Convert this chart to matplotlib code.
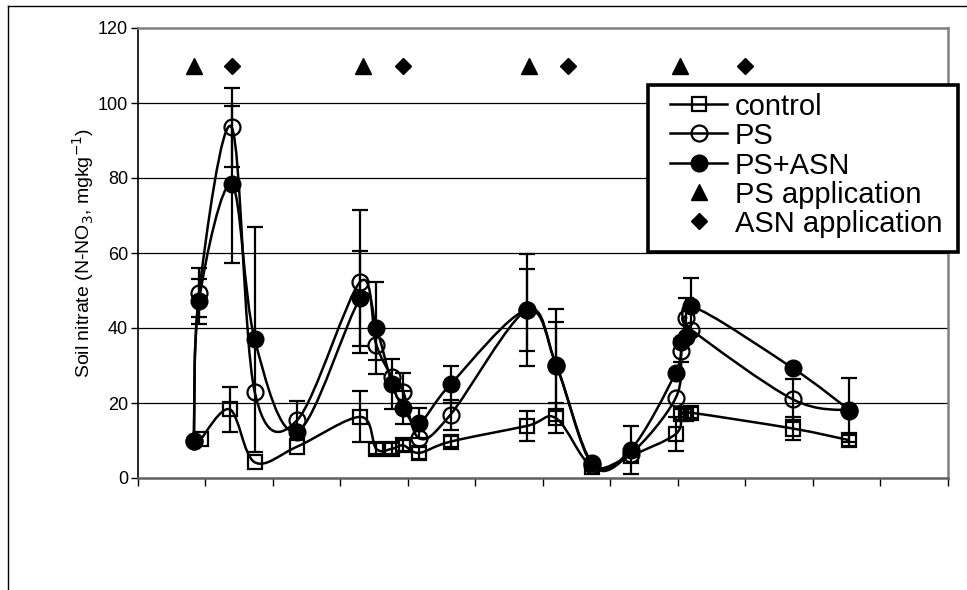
import numpy as np
import matplotlib
matplotlib.use('Agg')
import matplotlib.pyplot as plt
from matplotlib.path import Path
from matplotlib.patches import PathPatch, Rectangle
from matplotlib.lines import Line2D

plt.rcParams['font.family'] = ['Liberation Sans', 'DejaVu Sans']

# sampling days (x axis has no labels, ticks every 30 days)
days_c = [28, 41, 52, 71, 99, 106, 113, 118, 125, 139, 173, 186, 202, 219, 239, 241.6, 243.6, 246, 291, 316]
control = [10.3, 18.3, 4.2, 8.4, 16.3, 7.8, 7.8, 8.7, 6.7, 9.7, 13.9, 15.9, 3.0, 6.0, 11.7, 17.0, 17.0, 17.4, 13.2, 10.1]
control_err = [0, 6, 0, 0, 6.8, 1.5, 1.5, 1.5, 1.5, 1.5, 4, 4, 0, 0, 4.5, 1.5, 1.5, 1.5, 3, 1.5]

days_ps = [25, 27.3, 41.8, 52, 71, 99, 106, 113, 118, 125, 139, 173, 186, 202, 219, 239, 241.6, 243.6, 246, 291, 316]
ps = [10, 49.4, 93.5, 23, 15.5, 52.4, 35.6, 27, 23.0, 10.6, 16.9, 44.8, 30, 3.5, 6.5, 21.3, 34.0, 42.6, 39.5, 21, 18]
ps_err = [0, 6.5, 10.5, 0, 5, 19, 4, 0, 5, 0, 4, 15, 11.5, 0, 0, 0, 3, 5.3, 0, 5.4, 0]
ps_asn = [10, 47.2, 78.3, 37, 12.4, 47.9, 40.1, 25.1, 18.8, 14.6, 25.0, 44.8, 30.1, 4.0, 7.5, 28.1, 36.3, 37.7, 45.8, 29.3, 18.2]
ps_asn_err = [0, 6, 21, 30, 0, 12.7, 12.3, 6.7, 4.4, 4, 5, 11, 15, 0, 6.5, 0, 0, 0, 7.6, 0, 8.5]

ps_app_days = [25, 100, 174, 241]
asn_app_days = [41.8, 118, 191, 270]
app_level = 110

labels = ['control', 'PS', 'PS+ASN', 'PS application', 'ASN application']

W, H = 967, 590


def smooth(ax, x, y, lw):
    # Excel-like smoothed line drawn as cubic Bezier segments
    pts = np.column_stack([x, y]).astype(float)
    n = len(pts)
    verts = [pts[0]]
    codes = [Path.MOVETO]
    for i in range(n - 1):
        p0 = pts[i - 1] if i > 0 else pts[i]
        p1 = pts[i]
        p2 = pts[i + 1]
        p3 = pts[i + 2] if i + 2 < n else pts[i + 1]
        verts += [p1 + (p2 - p0) / 6, p2 - (p3 - p1) / 6, p2]
        codes += [Path.CURVE4] * 3
    ax.add_patch(PathPatch(Path(verts, codes), fc='none', ec='black', lw=lw, zorder=2))


def errs(ax, x, y, e):
    x, y, e = np.array(x), np.array(y), np.array(e)
    m = e > 0
    ax.errorbar(x[m], y[m], yerr=e[m], fmt='none', ecolor='black', elinewidth=1.6,
                capsize=5.5, capthick=1.6, zorder=4)


def fx(px):
    return px / W


def fy(py):
    return 1 - py / H


fig = plt.figure(figsize=(9.67, 5.9), dpi=100)
ax = fig.add_axes([fx(137.6), fy(478), (948 - 137.6) / W, 450 / H])

lw = 1.8
styles = [
    dict(marker='s', ms=10, mfc='none', mec='black', mew=1.6),
    dict(marker='o', ms=11.5, mfc='none', mec='black', mew=1.6),
    dict(marker='o', ms=12, mfc='black', mec='black'),
    dict(marker='^', ms=11, color='black'),
    dict(marker='D', ms=8.5, color='black'),
]

smooth(ax, days_c, control, lw)
smooth(ax, days_ps, ps, lw)
smooth(ax, days_ps, ps_asn, lw)

ax.plot(days_c, control, ls='none', zorder=3, **styles[0])
ax.plot(days_ps, ps, ls='none', zorder=3, **styles[1])
ax.plot(days_ps, ps_asn, ls='none', zorder=3, **styles[2])
errs(ax, days_c, control, control_err)
errs(ax, days_ps, ps, ps_err)
errs(ax, days_ps, ps_asn, ps_asn_err)

ax.plot(ps_app_days, [app_level] * len(ps_app_days), ls='none', **styles[3])
ax.plot(asn_app_days, [app_level] * len(asn_app_days), ls='none', **styles[4])

ax.set_xlim(0, 360)
ax.set_ylim(0, 120)
ax.set_xticks(np.arange(0, 361, 30))
ax.set_xticklabels([])
ax.set_yticks(np.arange(0, 121, 20))
ax.tick_params(axis='y', labelsize=13, length=5, width=1, direction='out', pad=2)
ax.tick_params(axis='x', length=6, width=1, direction='out')
for v in range(20, 101, 20):
    ax.axhline(v, color='black', lw=0.9, zorder=1)
for s in ['top', 'right']:
    ax.spines[s].set_color('#808080')
    ax.spines[s].set_linewidth(1.8)
ax.spines['left'].set_linewidth(1.2)
ax.spines['bottom'].set_color('#606060')
ax.spines['bottom'].set_linewidth(1.8)
ax.set_ylabel('Soil nitrate (N-NO$_3$, mgkg$^{-1}$)', fontsize=14, labelpad=1)

# legend box drawn by hand (Excel layout)
fig.add_artist(Rectangle((fx(648), fy(252)), (958 - 648) / W, (252 - 85) / H, transform=fig.transFigure,
                         fc='white', ec='black', lw=2.6, zorder=10))
rows = [104, 133, 163, 192, 221]
for i, (lab, py) in enumerate(zip(labels, rows)):
    if i < 3:
        fig.add_artist(Line2D([fx(670), fx(727)], [fy(py), fy(py)], color='black', lw=lw,
                              transform=fig.transFigure, zorder=11))
    fig.add_artist(Line2D([fx(698.5)], [fy(py)], ls='none', transform=fig.transFigure, zorder=12,
                          **styles[i]))
    fig.text(fx(735), fy(py + 11), lab, fontsize=21, va='baseline', ha='left', zorder=12)

# figure frame (top and left edges visible)
fig.add_artist(Line2D([fx(8), fx(8)], [0, fy(6)], color='black', lw=1, transform=fig.transFigure))
fig.add_artist(Line2D([fx(8), 1], [fy(6), fy(6)], color='black', lw=1, transform=fig.transFigure))

fig.savefig('out.png', dpi=100)
